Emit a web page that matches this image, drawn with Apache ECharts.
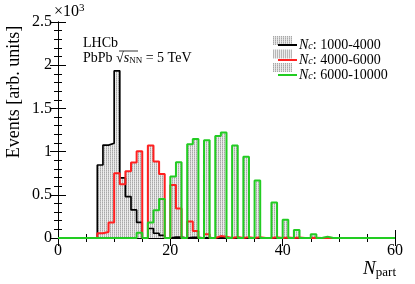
<!DOCTYPE html>
<html><head><meta charset="utf-8">
<script src="https://cdn.jsdelivr.net/npm/echarts@6/dist/echarts.min.js"></script>
<style>html,body{margin:0;padding:0;background:#fff}#c{width:415px;height:284px}</style>
</head><body><div id="c"></div>
<script>
// bin edges of N_part (width 1)
const binEdges = [0,1,2,3,4,5,6,7,8,9,10,11,12,13,14,15,16,17,18,19,20,21,22,23,24,25,26,27,28,29,30,31,32,33,34,35,36,37,38,39,40,41,42,43,44,45,46,47,48,49,50,51,52,53,54,55,56,57,58,59,60];
// bin contents (events), bins 0..59
const blackVals = [0,0,0,0,0,0,0,845,1075,1096,1935,695,480,325,180,0,110,55,30,0,10,10,0,8,8,0,5,0,5,0,0,0,0,0,0,0,0,0,0,0,0,0,0,0,0,0,0,0,0,0,0,0,0,0,0,0,0,0,0,0];
const redVals   = [0,0,0,0,0,0,0,55,70,180,750,622,772,875,1005,0,1072,885,742,0,612,340,0,192,82,0,42,0,22,15,0,12,0,10,0,10,0,0,8,0,6,0,5,0,0,4,0,3,0,0,0,0,0,0,0,0,0,0,0,0];
const greenVals = [0,0,0,0,0,0,0,0,0,0,0,0,0,0,62,0,180,322,452,0,712,876,0,1085,1145,0,1130,0,1180,1222,0,1070,0,940,0,665,0,0,412,0,212,0,92,0,0,42,0,16,0,0,0,0,0,0,0,0,0,0,0,0];
const seriesLabels = ['1000-4000','4000-6000','6000-10000'];
const seriesColors = ['#000000','#ff2020','#22cc22'];
const xTicks = [0,20,40,60];
const yTicks = [0,0.5,1,1.5,2,2.5];

function hatchCanvas(){
  const c=document.createElement('canvas');c.width=2;c.height=2;
  const g=c.getContext('2d');
  g.fillStyle='#ececec';g.fillRect(0,0,2,2);
  g.fillStyle='#a8a8a8';g.fillRect(0,0,1,1);
  g.fillStyle='#c4c4c4';g.fillRect(0,1,1,1);
  return c;
}
const hatch={image:hatchCanvas(),repeat:'repeat'};
function steps(vals){
  const pts=[];
  for(let i=0;i<vals.length;i++) pts.push([binEdges[i],vals[i]]);
  pts.push([binEdges[binEdges.length-1],0]);
  return pts;
}
const allVals=[blackVals,redVals,greenVals];
const serif='"Liberation Serif","DejaVu Serif",serif';
const series=[];
allVals.forEach((v,k)=>{
  series.push({type:'line',name:'fill'+k,step:'end',data:steps(v),showSymbol:false,silent:true,
    lineStyle:{width:0},areaStyle:{color:hatch,opacity:1},z:1,animation:false});
});
allVals.forEach((v,k)=>{
  series.push({type:'line',name:'Nc: '+seriesLabels[k],step:'end',data:steps(v),showSymbol:false,
    lineStyle:{color:seriesColors[k],width:k===0?1.7:2},itemStyle:{color:seriesColors[k]},z:3+k,animation:false});
});
const axisCommon={type:'value',min:0,max:60,interval:20,
  axisLine:{show:true,lineStyle:{color:'#000',width:1}},
  axisTick:{show:true,inside:true,length:8,lineStyle:{color:'#000'}},
  minorTick:{show:true,splitNumber:4,length:4,lineStyle:{color:'#000'}},
  splitLine:{show:false}};
const yCommon={type:'value',min:0,max:2500,interval:500,
  axisLine:{show:true,lineStyle:{color:'#000',width:1}},
  axisTick:{show:true,inside:true,length:8,lineStyle:{color:'#000'}},
  minorTick:{show:true,splitNumber:5,length:4,lineStyle:{color:'#000'}},
  splitLine:{show:false}};
const chart=echarts.init(document.getElementById('c'),null,{renderer:'canvas'});
chart.setOption({
  animation:false,
  backgroundColor:'#fff',
  grid:{left:58,right:20,top:22,bottom:46,containLabel:false,outerBoundsMode:'none'},
  xAxis:[
    Object.assign({},axisCommon,{position:'bottom',
      axisLabel:{show:true,margin:5,color:'#000',fontFamily:serif,fontSize:16,
        formatter:v=>xTicks.indexOf(v)>=0?String(v):''}}),
    Object.assign({},axisCommon,{position:'top',axisLabel:{show:false}})
  ],
  yAxis:[
    Object.assign({},yCommon,{position:'left',
      axisLabel:{show:true,margin:6,color:'#000',fontFamily:serif,fontSize:16,
        formatter:v=>{const t=v/1000;return yTicks.indexOf(t)>=0?String(t):'';}}}),
    Object.assign({},yCommon,{position:'right',axisLabel:{show:false}})
  ],
  legend:{
    orient:'vertical',left:273,top:33,itemWidth:19,itemHeight:2,itemGap:1,icon:'rect',
    data:series.slice(3).map(s=>s.name),
    formatter:name=>'{i|N}{s|c}{t|'+name.slice(2)+'}',
    textStyle:{padding:[0,0,0,-3],rich:{
      i:{fontFamily:serif,fontStyle:'italic',fontSize:14,color:'#000',lineHeight:13},
      s:{fontFamily:serif,fontStyle:'italic',fontSize:10,color:'#000',lineHeight:6,verticalAlign:'bottom'},
      t:{fontFamily:serif,fontSize:14,color:'#000',lineHeight:13}}}
  },
  graphic:[
    {type:'rect',left:273,top:36,shape:{width:19,height:9},style:{fill:hatch},z:0},
    {type:'rect',left:273,top:49.5,shape:{width:19,height:9},style:{fill:hatch},z:0},
    {type:'rect',left:273,top:63,shape:{width:19,height:9},style:{fill:hatch},z:0},
    {type:'text',x:54,y:3,style:{text:'{a|×10}{b|3}',rich:{
      a:{fontFamily:serif,fontSize:16,fill:'#000',lineHeight:18},
      b:{fontFamily:serif,fontSize:11,fill:'#000',lineHeight:8,verticalAlign:'top'}}}},
    {type:'text',x:83,y:36,style:{text:'LHCb',font:'14px '+serif,fill:'#000'}},
    {type:'text',x:83,y:51,style:{text:'PbPb {r|√}{s|s}{nn|NN}{t| = 5 TeV}',font:'14px '+serif,fill:'#000',
      rich:{r:{fontFamily:serif,fontSize:14,fill:'#000'},
            s:{fontFamily:serif,fontStyle:'italic',fontSize:14,fill:'#000'},
            nn:{fontFamily:serif,fontSize:9,fill:'#000',lineHeight:6,verticalAlign:'bottom'},
            t:{fontFamily:serif,fontSize:14,fill:'#000'}}}},
    {type:'line',shape:{x1:119,y1:51,x2:138,y2:51},style:{stroke:'#000',lineWidth:0.8}},
    {type:'text',x:14,y:92,rotation:Math.PI/2,style:{text:'Events [arb. units]',font:'18px '+serif,fill:'#000',align:'center',verticalAlign:'middle'}},
    {type:'text',x:396,y:259,style:{text:'{n|N}{p|part}',align:'right',verticalAlign:'top',
      rich:{n:{fontFamily:serif,fontStyle:'italic',fontSize:19,fill:'#000',lineHeight:20},
            p:{fontFamily:serif,fontSize:13,fill:'#000',lineHeight:8,verticalAlign:'bottom'}}}}
  ],
  series:series
});
</script></body></html>
